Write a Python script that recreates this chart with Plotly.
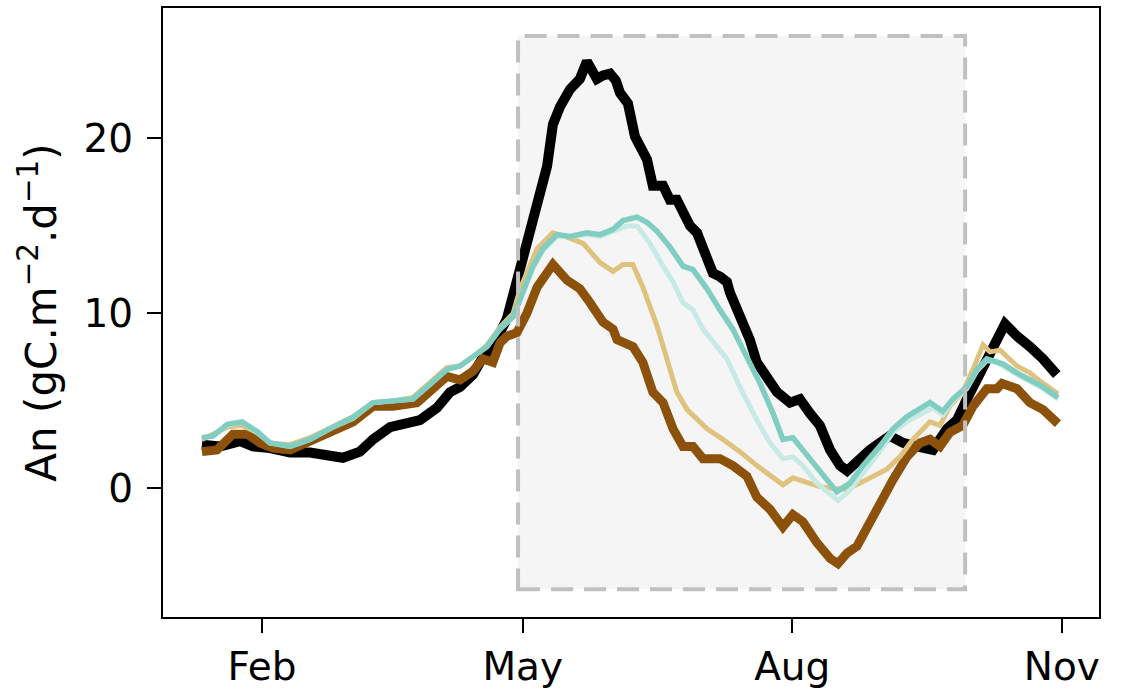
import pandas as pd
import plotly.graph_objects as go

BASE = pd.Timestamp("2019-01-01")

# day-of-year offsets (0 = Jan 1) and An values for each series
black_days = [10.5, 16.7, 23.5, 27.9, 33.7, 40.6, 47.4, 53.2, 58.6, 64.4, 68.9, 74.7, 80.5, 84.9, 90.7, 95.2,
              98.6, 103.0, 106.4, 109.8, 114.6, 116.7, 119.1, 121.4, 124.9, 126.9, 128.3, 130.3, 132.7, 136.1,
              139.5, 141.9, 143.6, 145.3, 147.4, 149.8, 151.8, 153.2, 155.9, 158.3, 162.4, 164.4, 167.9, 170.2,
              172.6, 177.1, 179.5, 182.9, 184.9, 187.3, 189.7, 190.7, 194.1, 197.5, 199.9, 203.4, 206.8, 211.2,
              214.6, 218.0, 221.4, 224.9, 228.3, 230.7, 234.1, 238.5, 245.3, 249.8, 254.5, 260.0, 264.8, 268.2,
              271.6, 275.0, 278.4, 281.9, 284.6, 288.7, 290.7, 293.1, 297.6, 302.3]
black_vals = [2.5, 2.4, 2.7, 2.4, 2.3, 2.05, 2.05, 1.95, 1.75, 2.1, 2.8, 3.5, 3.8, 3.9, 4.6, 5.5,
              5.8, 6.5, 7.5, 8.1, 9.7, 11.0, 12.5, 14.0, 16.5, 17.3, 18.4, 20.8, 21.8, 22.8,
              23.4, 24.4, 24.0, 23.4, 23.6, 23.7, 23.3, 22.6, 22.0, 20.1, 18.8, 17.3, 17.3, 16.5,
              16.5, 15.0, 14.6, 13.1, 12.3, 12.1, 11.8, 11.2, 10.0, 8.5, 7.2, 6.4, 5.5, 4.9,
              5.1, 4.3, 3.6, 2.2, 1.3, 1.0, 1.5, 2.2, 3.0, 2.6, 2.4, 2.2, 3.4, 3.9,
              5.1, 6.2, 7.4, 8.5, 9.4, 8.7, 8.5, 8.1, 7.4, 6.5]

brown_days = [10.5, 15.6, 21.1, 25.9, 30.3, 34.8, 40.6, 47.4, 55.2, 62.1, 68.9, 75.7, 83.9, 89.4, 94.1, 98.6,
              103.0, 106.4, 109.8, 112.2, 114.6, 118.0, 121.4, 124.9, 130.3, 135.1, 139.5, 143.0, 147.4, 150.8,
              152.2, 157.6, 161.0, 164.4, 167.9, 171.3, 174.7, 178.1, 181.5, 187.3, 191.7, 196.5, 199.9, 204.4,
              208.8, 212.2, 215.6, 220.4, 224.9, 227.6, 230.7, 234.1, 237.5, 241.9, 246.4, 251.1, 255.6, 259.0,
              262.4, 265.8, 270.2, 273.7, 278.4, 281.9, 283.6, 288.7, 293.1, 297.6, 302.7]
brown_vals = [2.1, 2.2, 3.1, 3.1, 2.6, 2.3, 2.2, 2.7, 3.4, 3.8, 4.7, 4.7, 4.9, 5.8, 6.4, 6.2,
              6.7, 7.4, 7.2, 8.3, 8.7, 8.9, 10.0, 11.5, 12.8, 11.9, 11.4, 10.6, 9.5, 9.1,
              8.5, 8.1, 7.2, 5.5, 4.9, 3.4, 2.4, 2.4, 1.7, 1.7, 1.3, 0.7, -0.5, -1.2,
              -2.2, -1.5, -1.9, -3.1, -4.0, -4.3, -3.7, -3.3, -2.2, -0.8, 0.5, 1.8, 2.6, 2.8,
              2.4, 3.2, 3.6, 4.7, 5.7, 5.7, 6.0, 5.7, 4.9, 4.5, 3.7]

tan_days = [10.5, 19.1, 24.2, 29.3, 33.7, 40.6, 47.4, 55.2, 62.1, 68.9, 75.7, 82.5, 89.4, 94.1, 98.6, 103.0,
            107.8, 112.2, 116.7, 119.1, 124.9, 130.3, 136.1, 140.6, 146.4, 150.8, 154.2, 157.6, 161.0, 165.8,
            169.2, 172.6, 176.1, 179.5, 182.9, 188.3, 194.1, 199.9, 204.4, 208.8, 212.2, 217.0, 221.4, 225.9,
            230.7, 235.1, 239.5, 244.3, 248.7, 253.2, 259.0, 262.4, 265.8, 270.2, 273.7, 277.1, 279.5, 282.9,
            288.7, 293.1, 297.6, 302.7]
tan_vals = [2.8, 3.5, 3.6, 3.2, 2.6, 2.5, 2.9, 3.5, 4.1, 4.9, 5.0, 5.2, 6.2, 6.9, 7.0, 7.5,
            8.2, 9.2, 10.0, 11.4, 13.7, 14.6, 14.3, 14.0, 12.9, 12.4, 12.8, 12.8, 11.5, 9.3,
            7.4, 5.5, 4.5, 3.9, 3.4, 2.8, 2.1, 1.3, 0.7, 0.2, 0.6, 0.3, 0.1, 0.0,
            -0.05, 0.3, 0.7, 1.1, 1.8, 2.8, 3.8, 3.6, 4.7, 5.5, 6.8, 8.2, 7.8, 7.9,
            7.0, 6.6, 6.0, 5.4]

lteal_days = [10.5, 14.3, 19.1, 24.2, 29.3, 33.7, 40.6, 47.4, 55.2, 62.1, 68.9, 75.7, 82.5, 89.4, 94.1, 98.6,
              103.0, 107.8, 112.2, 116.7, 119.1, 123.5, 126.9, 131.7, 136.1, 141.9, 146.4, 150.8, 155.6, 159.0,
              163.4, 167.9, 171.3, 174.7, 178.1, 181.5, 186.3, 189.7, 194.1, 199.9, 204.4, 208.8, 212.2, 215.6,
              220.4, 227.6, 231.7, 237.5, 241.9, 246.4, 251.1, 256.6, 260.0, 263.4, 266.8, 271.6, 275.0, 278.4,
              281.9, 288.7, 293.1, 297.6, 302.7]
lteal_vals = [2.9, 3.0, 3.6, 3.8, 3.2, 2.6, 2.4, 2.8, 3.5, 4.0, 4.9, 5.0, 5.1, 6.1, 6.8, 7.0,
              7.5, 8.1, 9.1, 9.8, 10.8, 12.6, 13.6, 14.4, 14.4, 14.5, 14.4, 14.7, 15.0, 15.0,
              14.0, 12.7, 11.8, 10.6, 10.2, 9.1, 8.1, 7.4, 5.8, 3.9, 2.6, 1.7, 1.8, 1.3,
              0.3, -0.7, -0.1, 1.1, 2.1, 3.2, 3.8, 4.3, 4.6, 4.2, 5.0, 5.7, 6.7, 7.3,
              7.2, 6.5, 6.1, 5.7, 5.1]

teal_days = [10.5, 14.3, 19.1, 24.2, 29.3, 33.7, 40.6, 47.4, 55.2, 62.1, 68.9, 75.7, 82.5, 89.4, 94.1, 98.6,
             103.0, 107.8, 112.2, 116.7, 119.1, 123.5, 126.9, 131.7, 136.1, 141.9, 146.4, 150.8, 154.2, 159.0,
             162.4, 165.8, 170.2, 174.7, 178.1, 182.9, 187.3, 191.7, 196.5, 201.0, 205.4, 208.8, 212.2, 215.6,
             220.4, 227.2, 231.7, 236.1, 241.9, 246.4, 251.1, 255.6, 259.0, 263.4, 266.8, 271.6, 275.0, 278.4,
             281.9, 284.0, 288.7, 293.1, 297.6, 302.7]
teal_vals = [2.9, 3.0, 3.66, 3.8, 3.26, 2.6, 2.4, 2.8, 3.5, 4.06, 4.9, 5.0, 5.1, 6.1, 6.8, 7.0,
             7.5, 8.1, 9.1, 9.8, 10.8, 12.7, 13.7, 14.5, 14.4, 14.6, 14.5, 14.8, 15.3, 15.5,
             15.2, 14.7, 13.8, 12.7, 12.5, 11.4, 10.2, 9.1, 7.5, 6.0, 4.3, 2.8, 2.9, 2.2,
             1.1, -0.2, 0.3, 1.3, 2.4, 3.4, 4.1, 4.6, 4.9, 4.4, 5.1, 5.8, 6.8, 7.4,
             7.2, 7.1, 6.6, 6.2, 5.8, 5.2]

# highlighted period (day offsets) and its vertical extent
box_days = [118.4, 271.0]
box_vals = [-5.77, 25.85]

x_range_days = [-2.8, 316.7]
y_range = [-7.35, 27.45]
tick_dates = ["2019-02-01", "2019-05-01", "2019-08-01", "2019-11-01"]
tick_text = ["Feb", "May", "Aug", "Nov"]
y_ticks = [0, 10, 20]


def to_dates(days):
    return BASE + pd.to_timedelta(days, unit="D")


series = [
    (black_days, black_vals, "#000000", 10),
    (brown_days, brown_vals, "#8c510a", 9),
    (tan_days, tan_vals, "#dfc27d", 5),
    (lteal_days, lteal_vals, "#c7eae5", 5),
    (teal_days, teal_vals, "#80cdc1", 5.5),
]

fig = go.Figure()
for d, v, c, w in series:
    fig.add_trace(go.Scatter(x=to_dates(d), y=v, mode="lines",
                             line=dict(color=c, width=w, shape="linear"),
                             showlegend=False, hoverinfo="skip"))

bx = to_dates(box_days)
fig.add_shape(type="rect", xref="x", yref="y", x0=bx[0], x1=bx[1], y0=box_vals[0], y1=box_vals[1],
              fillcolor="#f5f5f5", line=dict(width=0), layer="below")
fig.add_shape(type="rect", xref="x", yref="y", x0=bx[0], x1=bx[1], y0=box_vals[0], y1=box_vals[1],
              fillcolor="rgba(0,0,0,0)", line=dict(color="#c0c0c0", width=4, dash="22px,11px"), layer="above")

xr = to_dates(x_range_days)
axis_font = dict(family="DejaVu Sans", size=39, color="black")
title_font = dict(family="DejaVu Sans", size=42, color="black")
fig.update_layout(
    width=1127, height=690,
    margin=dict(l=163, r=28, t=8, b=73),
    paper_bgcolor="white", plot_bgcolor="white",
    font=axis_font,
    xaxis=dict(type="date", range=[xr[0], xr[1]], tickvals=tick_dates, ticktext=tick_text, automargin=False,
               showgrid=False, zeroline=False, showline=True, mirror=True, linecolor="black", linewidth=2,
               ticks="outside", ticklen=14, tickwidth=2, tickcolor="black", tickfont=axis_font),
    yaxis=dict(range=y_range, tickvals=y_ticks, showgrid=False, zeroline=False, automargin=False,
               showline=True, mirror=True, linecolor="black", linewidth=2,
               ticks="outside", ticklen=14, tickwidth=2, tickcolor="black", tickfont=axis_font,
               ticklabelstandoff=6,
               title=dict(text="An (gC.m<sup>−2</sup>.d<sup>−1</sup>)", font=title_font, standoff=14)),
)

fig.write_html("out.html")
